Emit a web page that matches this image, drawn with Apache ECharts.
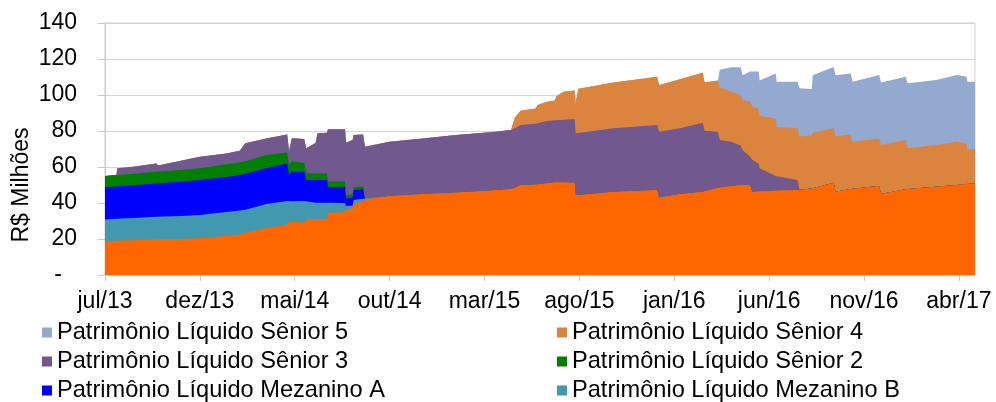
<!DOCTYPE html>
<html>
<head>
<meta charset="utf-8">
<script src="https://cdn.jsdelivr.net/npm/echarts@6/dist/echarts.min.js"></script>
<style>
html,body{margin:0;padding:0;background:#fff;}
#chart{width:996px;height:402px;}
</style>
</head>
<body>
<div id="chart"></div>
<script>
// Time in months since jul/2013
const months = [0,0.6,0.65,1.5,2.7,2.8,4.0,5.0,6.4,7.1,7.4,8.5,9.6,9.7,9.85,10.5,10.6,11.1,11.2,11.7,11.75,12.65,12.7,13.05,13.1,13.6,13.7,15.0,16.75,18.5,20.3,21.4,21.45,21.6,21.9,22.7,22.8,23.3,23.7,23.8,24.2,24.75,24.8,24.95,26.8,29.1,29.2,30.3,31.5,31.6,32.3,32.4,33.0,33.5,33.6,34.0,34.1,34.45,34.5,35.35,35.4,36.5,36.6,37.25,37.3,38.4,38.5,39.3,39.4,40.8,40.9,42.2,42.3,43.8,44.9,45.4,45.45,45.85];

const tickLabels = ['jul/13','dez/13','mai/14','out/14','mar/15','ago/15','jan/16','jun/16','nov/16','abr/17'];

const subordinada = [18.5,19.0,19.0,19.3,19.8,18.9,20.0,20.4,21.7,22.5,23.5,26.0,27.8,29.6,29.6,29.0,31.0,31.1,31.1,31.1,34.6,34.8,36.5,36.8,39.8,40.5,42.0,43.9,45.0,45.9,46.9,47.8,47.8,48.5,50.0,50.3,50.4,51.0,51.5,51.9,51.5,51.3,44.4,44.5,46.3,47.2,43.1,45.0,46.3,46.0,48.5,48.7,49.5,50.0,50.0,50.0,46.3,46.5,46.5,46.9,46.9,47.2,47.2,48.0,48.0,51.3,46.3,47.8,47.5,49.4,45.0,47.6,47.4,49.0,50.0,50.6,50.6,50.9];
const mezaninoB = [12.4,12.2,12.2,12.3,12.6,12.7,12.8,12.9,13.3,13.3,12.8,13.4,13.3,10.6,11.4,12.1,9.2,9.1,9.1,9.1,5.2,5.2,1.8,1.8,1.9,1.8,0,0,0,0,0,0,0,0,0,0,0,0,0,0,0,0,0,0,0,0,0,0,0,0,0,0,0,0,0,0,0,0,0,0,0,0,0,0,0,0,0,0,0,0,0,0,0,0,0,0,0,0];
const mezaninoA = [17.8,18.0,18.0,18.2,18.5,18.4,19.0,19.5,19.5,19.7,19.9,19.9,20.9,15.4,16.4,16.3,12.6,12.6,12.6,12.6,8.9,8.9,4.3,4.4,5.5,5.5,0,0,0,0,0,0,0,0,0,0,0,0,0,0,0,0,0,0,0,0,0,0,0,0,0,0,0,0,0,0,0,0,0,0,0,0,0,0,0,0,0,0,0,0,0,0,0,0,0,0,0,0];
const senior2 = [6.3,6.4,6.4,6.5,6.5,6.4,6.5,6.5,7.0,7.0,7.0,7.4,6.1,5.4,5.6,5.0,3.7,3.7,3.7,3.7,3.2,3.2,1.8,1.8,1.5,1.5,0,0,0,0,0,0,0,0,0,0,0,0,0,0,0,0,0,0,0,0,0,0,0,0,0,0,0,0,0,0,0,0,0,0,0,0,0,0,0,0,0,0,0,0,0,0,0,0,0,0,0,0];
const senior3 = [0,0,3.7,3.9,4.6,4.4,5.2,6.4,6.0,6.5,10.0,9.2,10.0,8.0,13.0,13.1,13.9,16.8,22.2,22.5,29.1,28.9,29.1,30.2,29.1,28.7,29.3,30.1,30.9,31.9,32.4,32.7,32.7,33.0,33.3,33.7,33.8,34.5,34.5,34.2,34.8,35.4,34.3,34.4,35.2,36.1,36.5,36.5,38.3,34.2,31.1,26.3,24.5,22.0,19.4,15.7,17.7,15.5,12.8,8.1,7.1,5.6,0,0,0,0,0,0,0,0,0,0,0,0,0,0,0,0];
const senior4 = [0,0,0,0,0,0,0,0,0,0,0,0,0,0,0,0,0,0,0,0,0,0,0,0,0,0,0,0,0,0,0,0,2.0,6.0,8.0,8.5,10.3,10.8,11.0,13.3,15.6,15.8,16.8,24.6,25.4,26.9,26.0,27.2,27.8,26.7,28.4,29.0,28.0,28.0,27.8,30.6,30.0,30.0,29.2,32.0,28.4,28.7,29.7,29.5,31.0,30.2,30.7,30.2,26.5,26.5,27.2,27.4,23.0,23.2,24.0,22.5,19.2,19.1];
const senior5 = [0,0,0,0,0,0,0,0,0,0,0,0,0,0,0,0,0,0,0,0,0,0,0,0,0,0,0,0,0,0,0,0,0,0,0,0,0,0,0,0,0,0,0,0,0,0,0,0,0,0,0,10.0,13.4,15.4,13.8,16.7,19.0,21.0,19.5,25.0,25.0,25.9,26.8,25.9,32.0,34.0,34.0,34.0,33.4,35.2,34.7,35.2,36.1,36.1,37.1,37.1,37.6,37.4];

const FONT = 'Liberation Sans, Arial, sans-serif';
const chart = echarts.init(document.getElementById('chart'), null, {renderer:'canvas'});

// stacking order, bottom to top
const layers = [
  {name: 'Patrimônio Líquido Subordinada', values: subordinada, color: '#FF6600'},
  {name: 'Patrimônio Líquido Mezanino B', values: mezaninoB, color: '#4198AF'},
  {name: 'Patrimônio Líquido Mezanino A', values: mezaninoA, color: '#0000FF'},
  {name: 'Patrimônio Líquido Sênior 2', values: senior2, color: '#008000'},
  {name: 'Patrimônio Líquido Sênior 3', values: senior3, color: '#71588F'},
  {name: 'Patrimônio Líquido Sênior 4', values: senior4, color: '#DB843D'},
  {name: 'Patrimônio Líquido Sênior 5', values: senior5, color: '#93A9CF'}
];

// cumulative tops (stack), each layer's area drawn from 0 to its top; upper layers drawn first
const running = months.map(() => 0);
const stackedSeries = layers.map(function (L, k) {
  const tops = L.values.map(function (v, i) { running[i] += v; return running[i]; });
  return {
    name: L.name,
    type: 'line',
    symbol: 'none',
    showSymbol: false,
    z: 10 - k,
    lineStyle: {width: 0},
    areaStyle: {color: L.color, opacity: 1, origin: 'start'},
    itemStyle: {color: L.color},
    emphasis: {disabled: true},
    silent: true,
    data: months.map((m, i) => [m, +tops[i].toFixed(2)])
  };
});
const series = stackedSeries.slice().reverse();

const legendCommon = {
  orient: 'vertical',
  top: 320.5,
  height: 100,
  padding: 0,
  itemWidth: 10,
  itemHeight: 10,
  itemGap: 5,
  icon: 'rect',
  selectedMode: false,
  textStyle: {fontFamily: FONT, fontSize: 23.6, lineHeight: 23.5, color: '#000'}
};

chart.setOption({
  animation: false,
  backgroundColor: '#fff',
  grid: {left: 105, right: 21, top: 23, bottom: 127, show: true, borderColor: '#d0d0d0', borderWidth: 1, containLabel: false, outerBoundsMode: 'none'},
  legend: [
    Object.assign({}, legendCommon, {left: 42, width: 480, data: ['Patrimônio Líquido Sênior 5','Patrimônio Líquido Sênior 3','Patrimônio Líquido Mezanino A']}),
    Object.assign({}, legendCommon, {left: 557, width: 430, data: ['Patrimônio Líquido Sênior 4','Patrimônio Líquido Sênior 2','Patrimônio Líquido Mezanino B']})
  ],
  xAxis: {
    type: 'value',
    min: 0,
    max: 45.85,
    interval: 5,
    splitLine: {show: false},
    axisLine: {show: true, lineStyle: {color: '#c8c8c8', width: 1}},
    axisTick: {show: true, length: 6, lineStyle: {color: '#c8c8c8'}, customValues: tickLabels.map((_, i) => i * 5)},
    axisLabel: {
      customValues: tickLabels.map((_, i) => i * 5),
      margin: 15,
      fontFamily: FONT, fontSize: 23, color: '#000',
      formatter: function (v) { const k = Math.round(v / 5); return tickLabels[k] || ''; }
    }
  },
  yAxis: {
    type: 'value',
    min: 0,
    max: 140,
    interval: 20,
    name: 'R$ Milhões',
    nameLocation: 'middle',
    nameGap: 72,
    nameMoveOverlap: false,
    nameTextStyle: {fontFamily: FONT, fontSize: 23, color: '#000', padding: [0, 72, 0, 0]},
    splitLine: {show: true, lineStyle: {color: '#d4d4d4', width: 1}},
    axisLine: {show: true, lineStyle: {color: '#c8c8c8', width: 1}},
    axisTick: {show: true, length: 7, lineStyle: {color: '#c8c8c8'}},
    axisLabel: {
      margin: 28,
      fontFamily: FONT, fontSize: 23, color: '#000',
      formatter: function (v) { return v === 0 ? '{z|-}' : String(v); },
      rich: {z: {fontFamily: FONT, fontSize: 23, color: '#000', padding: [0, 15, 0, 0]}}
    }
  },
  series: series
});
</script>
</body>
</html>
